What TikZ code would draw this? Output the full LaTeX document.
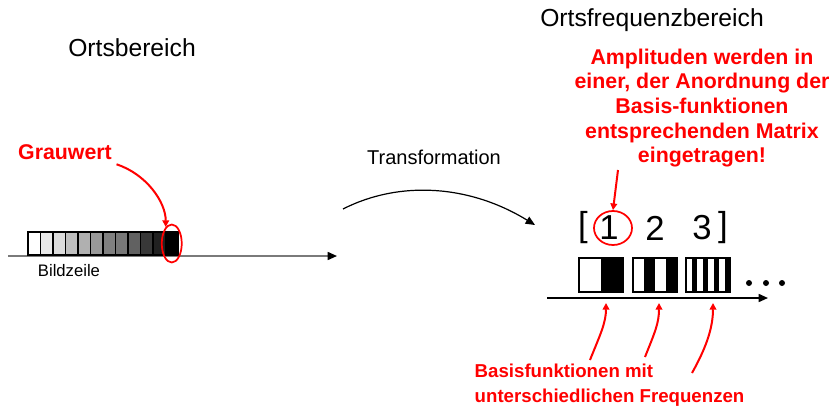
\documentclass[tikz,border=0pt]{standalone}
\usepackage{fontspec}
\setmainfont{Liberation Sans}
\usetikzlibrary{arrows.meta, positioning, shapes.geometric}
\definecolor{notered}{HTML}{FF0000}
\definecolor{axisgray}{HTML}{7A7A7A}
\tikzset{
  heading/.style={font=\fontsize{18.5}{22}\selectfont},
  redlabel/.style={text=notered, font=\bfseries\fontsize{16}{18.5}\selectfont, align=center},
  redarrow/.style={notered, line width=1.5pt, -{Triangle[length=5pt, width=5pt]}},
  ring/.style={draw=notered, line width=1.3pt, ellipse, inner sep=0pt},
  pixel/.style={draw, line width=0.8pt, minimum width=9.4pt, minimum height=17.25pt, inner sep=0pt, outer sep=0pt},
  basisbox/.style={draw, line width=1.5pt, minimum width=33pt, minimum height=25.5pt, inner sep=0pt},
  bigdigit/.style={font=\fontsize{26}{30}\selectfont, inner sep=0pt}
}

\begin{document}
\begin{tikzpicture}[x=0.75pt, y=-0.75pt]
\useasboundingbox (0,0) rectangle (836,411);

% headings
\node[heading] (ortsb) at (132,48) {Ortsbereich};
\node[heading] (ortsf) at (652,20) {Ortsfrequenzbereich};

% Bildzeile with grey values
\coordinate (lstart) at (8,256);
\coordinate (lend) at (337,256);
\draw[axisgray, line width=1.2pt, -{Triangle[color=black, length=7pt, width=6pt]}] (lstart) -- (lend);
\foreach \k [count=\i from 0] in {0,9,14,25,31,40,50,53,62,78,87,100}
  \node[pixel, fill=black!\k] (px\i) at (34.25+12.5*\i,243.5) {};
\node[font=\fontsize{12.5}{15}\selectfont] (zeile) at (69,271) {Bildzeile};
\node[ring, minimum width=15pt, minimum height=28.5pt] (grauring) at (px11) {};
\node[redlabel] (grauwert) at (65,152) {Grauwert};
\draw[redarrow] (grauwert.south east) .. controls +(30,10) and +(0,-25) .. (grauring.110);

% transformation
\node[font=\fontsize{15}{18}\selectfont] (trafo) at (434,157) {Transformation};
\coordinate (tstart) at (343,209);
\coordinate (tend) at (535,225);
\draw[line width=0.9pt, -{Triangle[length=7pt, width=6pt]}] (tstart) .. controls (400,180) and (470,185) .. (tend);

% Ortsfrequenzbereich: coefficients
\node[bigdigit] (lbr) at (583,228) {[};
\node[bigdigit] (d1) at (609,228) {1};
\node[bigdigit] (d2) at (655,228) {2};
\node[bigdigit] (d3) at (702,228) {3};
\node[bigdigit] (rbr) at (723,228) {]};
\node[ring, minimum width=28.5pt, minimum height=25.5pt] (ring1) at (613,228) {};

\node[redlabel] (amp) at (702,108) {Amplituden werden in\\einer, der Anordnung der\\Basis-funktionen\\entsprechenden Matrix\\eingetragen!};
\coordinate (ampfoot) at (618,170);
\draw[redarrow] (ampfoot) -- (ring1.north);

% basis functions
\coordinate (rstart) at (547,298);
\coordinate (rend) at (768,298);
\draw[line width=1.2pt, -{Triangle[length=7pt, width=6pt]}] (rstart) -- (rend);
\fill (601,258) rectangle (623,292);
\foreach \s in {1,3}
  \fill (633+11*\s,258) rectangle +(11,34);
\foreach \s in {1,3,5,7}
  \fill (686+5.5*\s,258) rectangle +(5.5,34);
\node[basisbox] (basis1) at (601,275) {};
\node[basisbox] (basis2) at (655,275) {};
\node[basisbox] (basis3) at (708,275) {};
\foreach \x in {749,766,782}
  \fill (\x,283) circle (3);

\node[redlabel, align=left, anchor=west, font=\bfseries\fontsize{14}{18.75}\selectfont] (basis) at (470,385) {Basisfunktionen mit\\unterschiedlichen Frequenzen};
\coordinate (f1) at (590,360);
\coordinate (f2) at (645,357);
\coordinate (f3) at (692,373);
\draw[redarrow] (f1) .. controls +(10,-25) and +(0,20) .. ([shift={(5,10)}]basis1.south);
\draw[redarrow] (f2) .. controls +(10,-25) and +(0,20) .. ([shift={(4,10)}]basis2.south);
\draw[redarrow] (f3) .. controls +(14,-25) and +(0,25) .. ([shift={(5,10)}]basis3.south);
\end{tikzpicture}
\end{document}
